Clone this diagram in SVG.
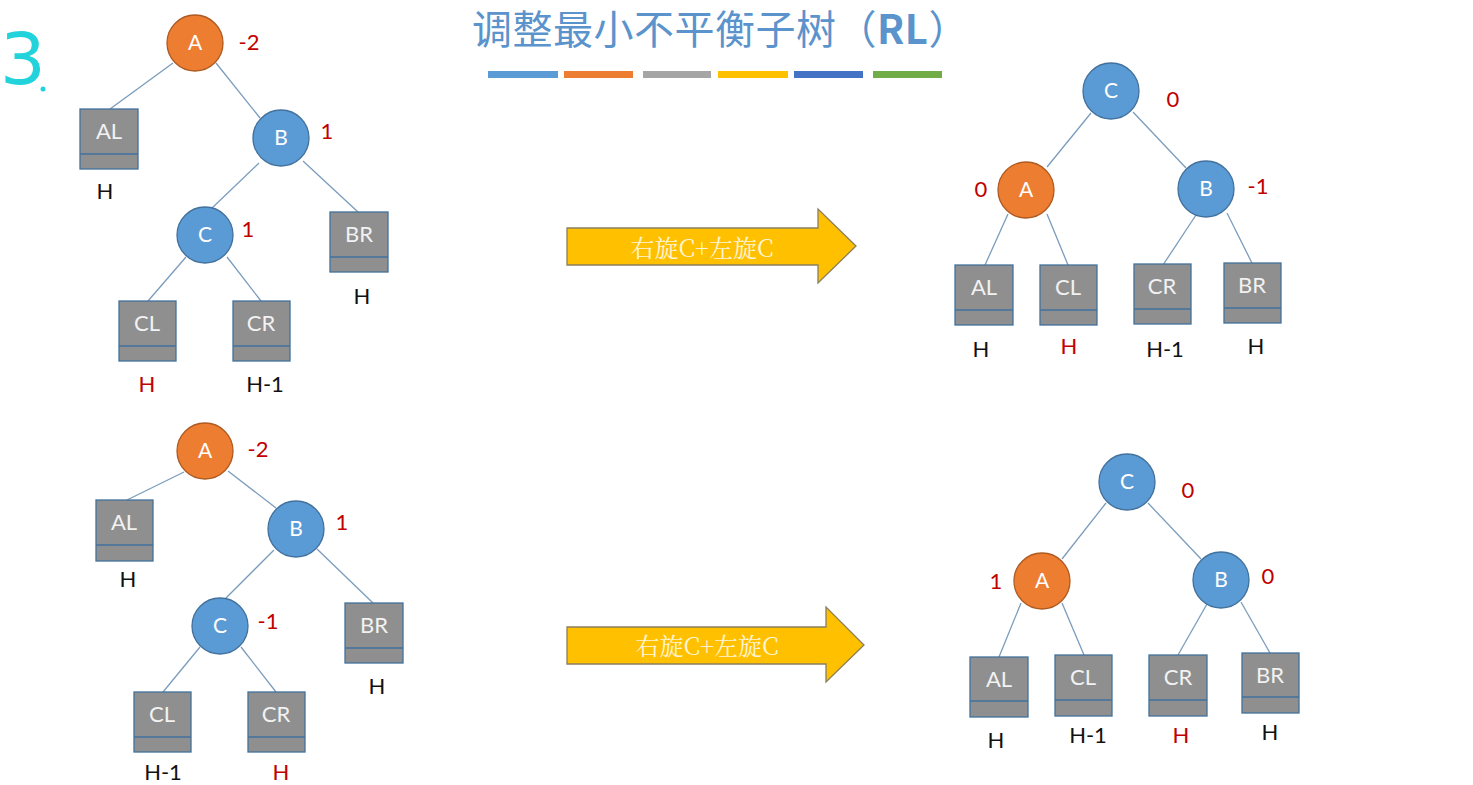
<svg xmlns="http://www.w3.org/2000/svg" width="1473" height="785" viewBox="0 0 1473 785">
<style>
.edge{stroke:#7a9cbc;stroke-width:1.3;fill:none}
.box rect{fill:#8f8f8f;stroke:#41719c;stroke-width:1.3}
.box line{stroke:#41719c;stroke-width:1.3}
.lbl{font-family:Lato,"Open Sans",sans-serif;font-size:22px;fill:#f2f2f2;text-anchor:middle}
.blue circle{fill:#5b9bd5;stroke:#41719c;stroke-width:1.3}
.orange circle{fill:#ed7d31;stroke:#ae5a21;stroke-width:1.3}
.nl{font-family:Lato,"Open Sans",sans-serif;font-size:21px;fill:#ffffff;text-anchor:middle}
.bf{font-family:Lato,"Open Sans",sans-serif;font-size:22px;fill:#c00000;text-anchor:middle}
.h{font-family:Lato,"Open Sans",sans-serif;font-size:22px;fill:#111111;text-anchor:middle}
.hr{font-family:Lato,"Open Sans",sans-serif;font-size:22px;fill:#c00000;text-anchor:middle}
.arrow{fill:#ffc000;stroke:#8a7f5c;stroke-width:1.3}
.at{font-family:"Noto Serif CJK SC","Noto Sans CJK SC",serif;font-size:24px;fill:#fff5d6;text-anchor:middle}
</style>

<text x="0" y="84" font-family="'Comic Sans MS','DejaVu Sans',sans-serif" font-size="72" fill="#22d3dc">3</text>
<circle cx="43" cy="89" r="2.5" fill="#22d3dc"/>

<g id="title">
<text x="472" y="44" font-family="'Noto Sans CJK SC',sans-serif" font-size="40" letter-spacing="0.5" fill="#5b93cc">调整最小不平衡子树（<tspan font-weight="bold">RL</tspan>）</text>
<rect x="488" y="71" width="70" height="7" fill="#5b9bd5"/>
<rect x="564" y="71" width="69" height="7" fill="#ed7d31"/>
<rect x="643" y="71" width="68" height="7" fill="#a5a5a5"/>
<rect x="718" y="71" width="70" height="7" fill="#ffc000"/>
<rect x="794" y="71" width="69" height="7" fill="#4472c4"/>
<rect x="873" y="71" width="69" height="7" fill="#70ad47"/>
</g>

<g id="connectors">
<line class="edge" x1="173" y1="63" x2="110" y2="109"/>
<line class="edge" x1="216" y1="63" x2="260" y2="118"/>
<line class="edge" x1="259" y1="163" x2="211" y2="209"/>
<line class="edge" x1="303" y1="161" x2="358" y2="212"/>
<line class="edge" x1="186" y1="257" x2="148" y2="301"/>
<line class="edge" x1="227" y1="257" x2="261" y2="301"/>
<line class="edge" x1="1091" y1="113" x2="1047" y2="167"/>
<line class="edge" x1="1133" y1="112" x2="1186" y2="168"/>
<line class="edge" x1="1008" y1="214" x2="985" y2="265"/>
<line class="edge" x1="1047" y1="214" x2="1068" y2="265"/>
<line class="edge" x1="1196" y1="215" x2="1163" y2="265"/>
<line class="edge" x1="1227" y1="213" x2="1252" y2="263"/>
<line class="edge" x1="184" y1="472" x2="127" y2="500"/>
<line class="edge" x1="228" y1="471" x2="276" y2="508"/>
<line class="edge" x1="274" y1="550" x2="226" y2="598"/>
<line class="edge" x1="317" y1="549" x2="373" y2="603"/>
<line class="edge" x1="200" y1="647" x2="163" y2="692"/>
<line class="edge" x1="241" y1="647" x2="276" y2="692"/>
<line class="edge" x1="1106" y1="503" x2="1062" y2="559"/>
<line class="edge" x1="1148" y1="503" x2="1201" y2="559"/>
<line class="edge" x1="1021" y1="603" x2="999" y2="657"/>
<line class="edge" x1="1062" y1="603" x2="1084" y2="655"/>
<line class="edge" x1="1207" y1="604" x2="1178" y2="655"/>
<line class="edge" x1="1241" y1="602" x2="1270" y2="653"/>
</g>

<g id="arrow1">
<path class="arrow" d="M567,228 H818 V209 L856,246 L818,283 V265 H567 Z"/>
<text class="at" x="702" y="257">右旋C+左旋C</text>
</g>
<g id="arrow2">
<path class="arrow" d="M567,627 H826 V607 L864,645 L826,682 V664 H567 Z"/>
<text class="at" x="707" y="655">右旋C+左旋C</text>
</g>

<g id="t1-A" class="orange"><circle cx="195" cy="43" r="28"/><text class="nl" x="195" y="50">A</text><text class="bf" x="249" y="50">-2</text></g>
<g id="t1-B" class="blue"><circle cx="281" cy="138" r="28"/><text class="nl" x="281" y="145">B</text><text class="bf" x="327" y="139">1</text></g>
<g id="t1-C" class="blue"><circle cx="205" cy="235" r="28"/><text class="nl" x="205" y="242">C</text><text class="bf" x="248" y="237">1</text></g>
<g id="t1-AL" class="box"><rect x="80" y="109" width="58" height="60"/><line x1="80" y1="154" x2="138" y2="154"/><text class="lbl" x="109" y="139">AL</text><text class="h" x="105" y="199">H</text></g>
<g id="t1-BR" class="box"><rect x="330" y="212" width="58" height="60"/><line x1="330" y1="257" x2="388" y2="257"/><text class="lbl" x="359" y="242">BR</text><text class="h" x="362" y="304">H</text></g>
<g id="t1-CL" class="box"><rect x="119" y="301" width="57" height="60"/><line x1="119" y1="346" x2="176" y2="346"/><text class="lbl" x="147" y="331">CL</text><text class="hr" x="147" y="392">H</text></g>
<g id="t1-CR" class="box"><rect x="233" y="301" width="57" height="60"/><line x1="233" y1="346" x2="290" y2="346"/><text class="lbl" x="261" y="331">CR</text><text class="h" x="265" y="392">H-1</text></g>

<g id="t2-C" class="blue"><circle cx="1111" cy="91" r="28"/><text class="nl" x="1111" y="98">C</text><text class="bf" x="1173" y="107">0</text></g>
<g id="t2-A" class="orange"><circle cx="1026" cy="190" r="28"/><text class="nl" x="1026" y="197">A</text><text class="bf" x="981" y="197">0</text></g>
<g id="t2-B" class="blue"><circle cx="1206" cy="189" r="28"/><text class="nl" x="1206" y="196">B</text><text class="bf" x="1258" y="194">-1</text></g>
<g id="t2-AL" class="box"><rect x="955" y="265" width="58" height="60"/><line x1="955" y1="310" x2="1013" y2="310"/><text class="lbl" x="984" y="295">AL</text><text class="h" x="981" y="357">H</text></g>
<g id="t2-CL" class="box"><rect x="1040" y="265" width="57" height="60"/><line x1="1040" y1="310" x2="1097" y2="310"/><text class="lbl" x="1068" y="295">CL</text><text class="hr" x="1069" y="354">H</text></g>
<g id="t2-CR" class="box"><rect x="1134" y="264" width="57" height="60"/><line x1="1134" y1="309" x2="1191" y2="309"/><text class="lbl" x="1162" y="294">CR</text><text class="h" x="1165" y="357">H-1</text></g>
<g id="t2-BR" class="box"><rect x="1224" y="263" width="57" height="60"/><line x1="1224" y1="308" x2="1281" y2="308"/><text class="lbl" x="1252" y="293">BR</text><text class="h" x="1256" y="354">H</text></g>

<g id="t3-A" class="orange"><circle cx="205" cy="451" r="28"/><text class="nl" x="205" y="458">A</text><text class="bf" x="258" y="457">-2</text></g>
<g id="t3-B" class="blue"><circle cx="296" cy="529" r="28"/><text class="nl" x="296" y="536">B</text><text class="bf" x="342" y="530">1</text></g>
<g id="t3-C" class="blue"><circle cx="220" cy="626" r="28"/><text class="nl" x="220" y="633">C</text><text class="bf" x="268" y="629">-1</text></g>
<g id="t3-AL" class="box"><rect x="96" y="500" width="57" height="61"/><line x1="96" y1="545" x2="153" y2="545"/><text class="lbl" x="124" y="530">AL</text><text class="h" x="128" y="587">H</text></g>
<g id="t3-BR" class="box"><rect x="345" y="603" width="58" height="60"/><line x1="345" y1="648" x2="403" y2="648"/><text class="lbl" x="374" y="633">BR</text><text class="h" x="377" y="694">H</text></g>
<g id="t3-CL" class="box"><rect x="134" y="692" width="57" height="60"/><line x1="134" y1="737" x2="191" y2="737"/><text class="lbl" x="162" y="722">CL</text><text class="h" x="163" y="780">H-1</text></g>
<g id="t3-CR" class="box"><rect x="248" y="692" width="57" height="60"/><line x1="248" y1="737" x2="305" y2="737"/><text class="lbl" x="276" y="722">CR</text><text class="hr" x="281" y="780">H</text></g>

<g id="t4-C" class="blue"><circle cx="1127" cy="482" r="28"/><text class="nl" x="1127" y="489">C</text><text class="bf" x="1188" y="498">0</text></g>
<g id="t4-A" class="orange"><circle cx="1042" cy="581" r="28"/><text class="nl" x="1042" y="588">A</text><text class="bf" x="996" y="589">1</text></g>
<g id="t4-B" class="blue"><circle cx="1221" cy="580" r="28"/><text class="nl" x="1221" y="587">B</text><text class="bf" x="1268" y="584">0</text></g>
<g id="t4-AL" class="box"><rect x="970" y="657" width="58" height="60"/><line x1="970" y1="701" x2="1028" y2="701"/><text class="lbl" x="999" y="687">AL</text><text class="h" x="996" y="748">H</text></g>
<g id="t4-CL" class="box"><rect x="1055" y="655" width="57" height="61"/><line x1="1055" y1="700" x2="1112" y2="700"/><text class="lbl" x="1083" y="685">CL</text><text class="h" x="1088" y="743">H-1</text></g>
<g id="t4-CR" class="box"><rect x="1149" y="655" width="58" height="61"/><line x1="1149" y1="700" x2="1207" y2="700"/><text class="lbl" x="1178" y="685">CR</text><text class="hr" x="1181" y="743">H</text></g>
<g id="t4-BR" class="box"><rect x="1242" y="653" width="57" height="60"/><line x1="1242" y1="697" x2="1299" y2="697"/><text class="lbl" x="1270" y="683">BR</text><text class="h" x="1270" y="740">H</text></g>
</svg>
